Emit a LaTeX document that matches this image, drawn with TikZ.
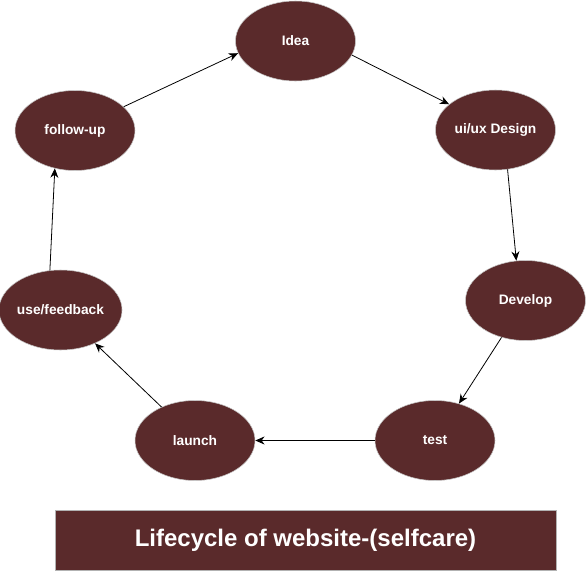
\documentclass[tikz,border=0pt]{standalone}
\usepackage{fontspec}
\setmainfont{Liberation Sans}
\usetikzlibrary{shapes.geometric,arrows.meta}
\definecolor{maroon}{RGB}{90,42,43}
\begin{document}
\begin{tikzpicture}[x=0.75pt,y=-0.75pt,
  stage/.style={ellipse,fill=maroon,draw=gray!45,line width=0.4pt,minimum width=90pt,minimum height=60pt,inner sep=0pt,text=white,font=\fontsize{10.3}{12}\selectfont\bfseries},
  titlebox/.style={rectangle,fill=maroon,draw=gray!60,line width=0.6pt,minimum width=375.75pt,minimum height=45pt,inner sep=0pt,text=white,font=\fontsize{18}{21}\selectfont\bfseries},
  flow/.style={draw=black,line width=0.6pt,-{Stealth[length=7pt,width=6pt]}}]
\useasboundingbox (0,0) rectangle (586,571);
\node[stage] (idea) at (295.5,41) {Idea};
\node[stage] (ui) at (495.5,130) {ui/ux Design};
\node[stage] (dev) at (525.5,300.5) {Develop};
\node[stage] (test) at (435,440.5) {test};
\node[stage] (launch) at (195,440.5) {launch};
\node[stage] (use) at (60.5,310) {use/feedback};
\node[stage] (follow) at (75,130.5) {follow-up};
\node[titlebox] (title) at (305.5,540) {Lifecycle of website-(selfcare)};
\draw[flow] (idea.-14) -- (ui.151);
\draw[flow] (ui.-73) -- (dev.103);
\draw[flow] (dev.-123) -- (test.57);
\draw[flow] (test.180) -- (launch.0);
\draw[flow] (launch.135) -- (use.-44);
\draw[flow] (use.105) -- (follow.-118);
\draw[flow] (follow.26) -- (idea.192);
\end{tikzpicture}
\end{document}
